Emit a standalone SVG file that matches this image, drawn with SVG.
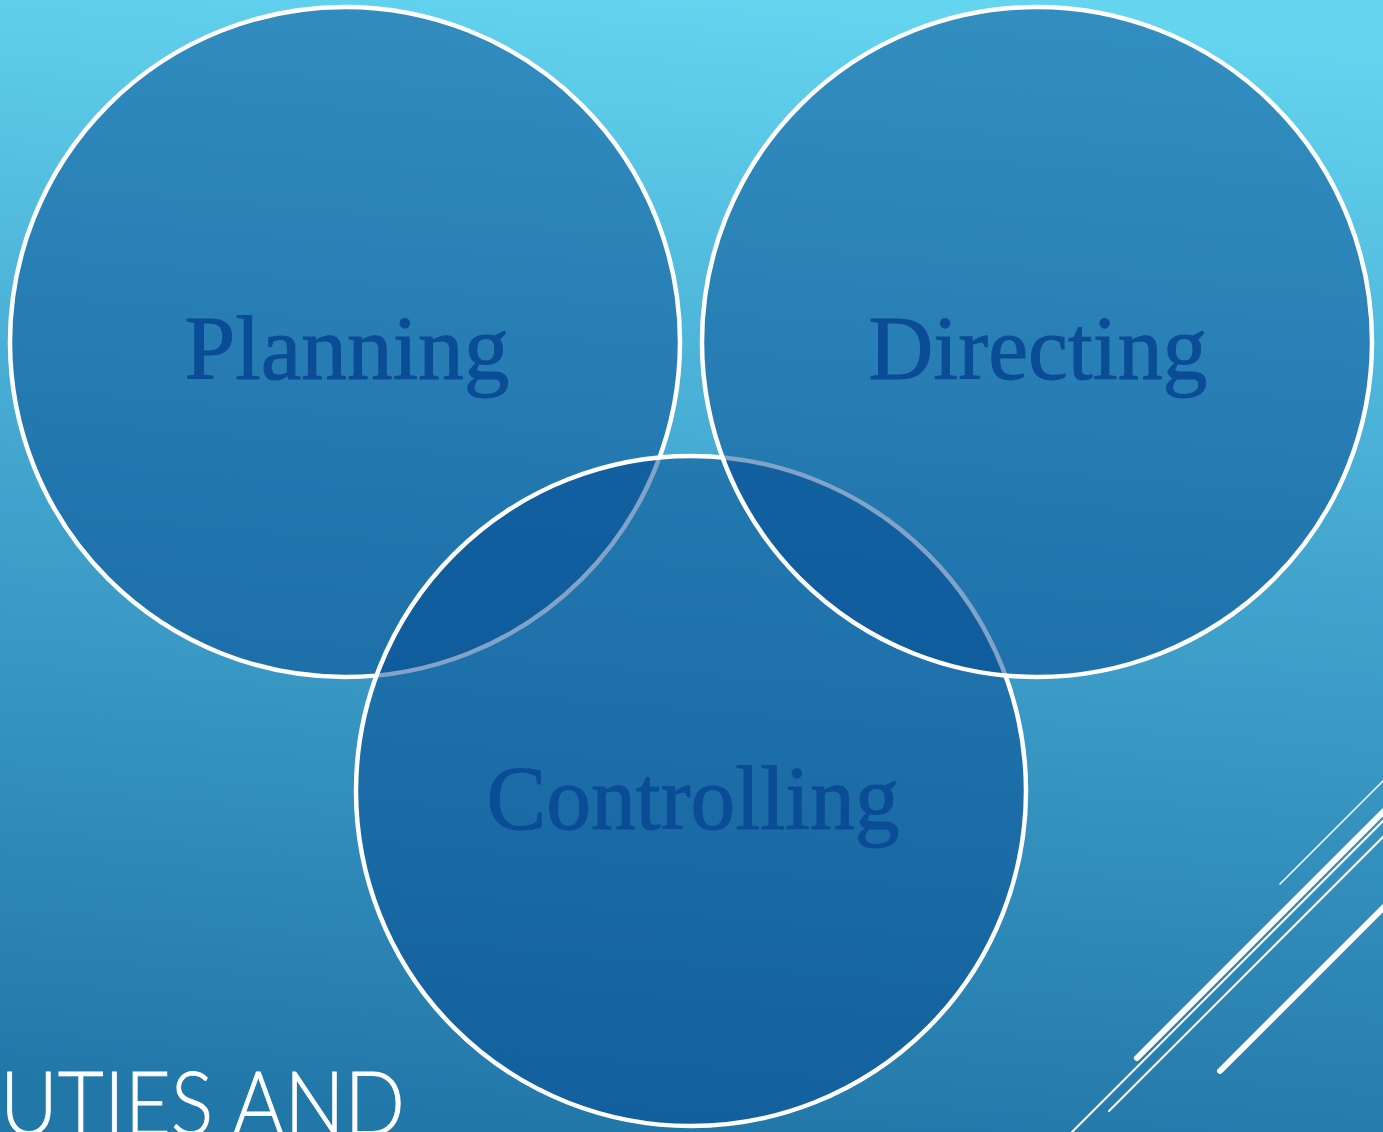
<svg xmlns="http://www.w3.org/2000/svg" width="1383" height="1132" viewBox="0 0 1383 1132">
  <defs>
    <linearGradient id="bg" x1="0.55" y1="0" x2="0.45" y2="1">
      <stop offset="0" stop-color="#64d4ef"/>
      <stop offset="0.45" stop-color="#43a6cf"/>
      <stop offset="1" stop-color="#2277a9"/>
    </linearGradient>
    <style>
      .ring { fill: rgba(2, 72, 144, 0.5); stroke: #ffffff; stroke-width: 4.5; }
      .label { font-family: Georgia, "Liberation Serif", "DejaVu Serif", serif; font-size: 91px; fill: #0b4c96; stroke: #0b4c96; stroke-width: 1; text-anchor: middle; }
      .title { font-family: Lato, "Open Sans", "Liberation Sans", sans-serif; font-weight: 300; font-size: 88px; fill: #ffffff; stroke: #ffffff; stroke-width: 0.8; }
      .deco { stroke: #ffffff; stroke-linecap: round; fill: none; }
    </style>
  </defs>

  <!-- backdrop -->
  <rect x="0" y="0" width="1383" height="1132" fill="url(#bg)"/>

  <!-- decorative diagonal strokes, lower right -->
  <g id="decor">
    <line class="deco" x1="1280" y1="884" x2="1385" y2="779" stroke-width="1.5"/>
    <line class="deco" x1="1137" y1="1058" x2="1385" y2="810" stroke-width="6"/>
    <line class="deco" x1="1070" y1="1134" x2="1385" y2="819" stroke-width="2"/>
    <line class="deco" x1="1109" y1="1111" x2="1385" y2="835" stroke-width="2"/>
    <line class="deco" x1="1220" y1="1071" x2="1385" y2="906" stroke-width="6"/>
  </g>

  <!-- slide title, running off the lower edge -->
  <text class="title" x="0" y="1135" textLength="405" lengthAdjust="spacingAndGlyphs">UTIES AND</text>

  <!-- connectors: none in this diagram -->
  <g id="connectors"/>

  <g id="planning">
    <circle class="ring" cx="345" cy="342" r="335"/>
  </g>
  <g id="controlling">
    <circle class="ring" cx="691" cy="791" r="335"/>
  </g>
  <g id="directing">
    <circle class="ring" cx="1037" cy="342" r="335"/>
  </g>

  <g id="labels">
    <text class="label" x="347" y="379" textLength="325" lengthAdjust="spacingAndGlyphs">Planning</text>
    <text class="label" x="1038" y="379" textLength="339" lengthAdjust="spacingAndGlyphs">Directing</text>
    <text class="label" x="693" y="829" textLength="413" lengthAdjust="spacingAndGlyphs">Controlling</text>
  </g>
</svg>
